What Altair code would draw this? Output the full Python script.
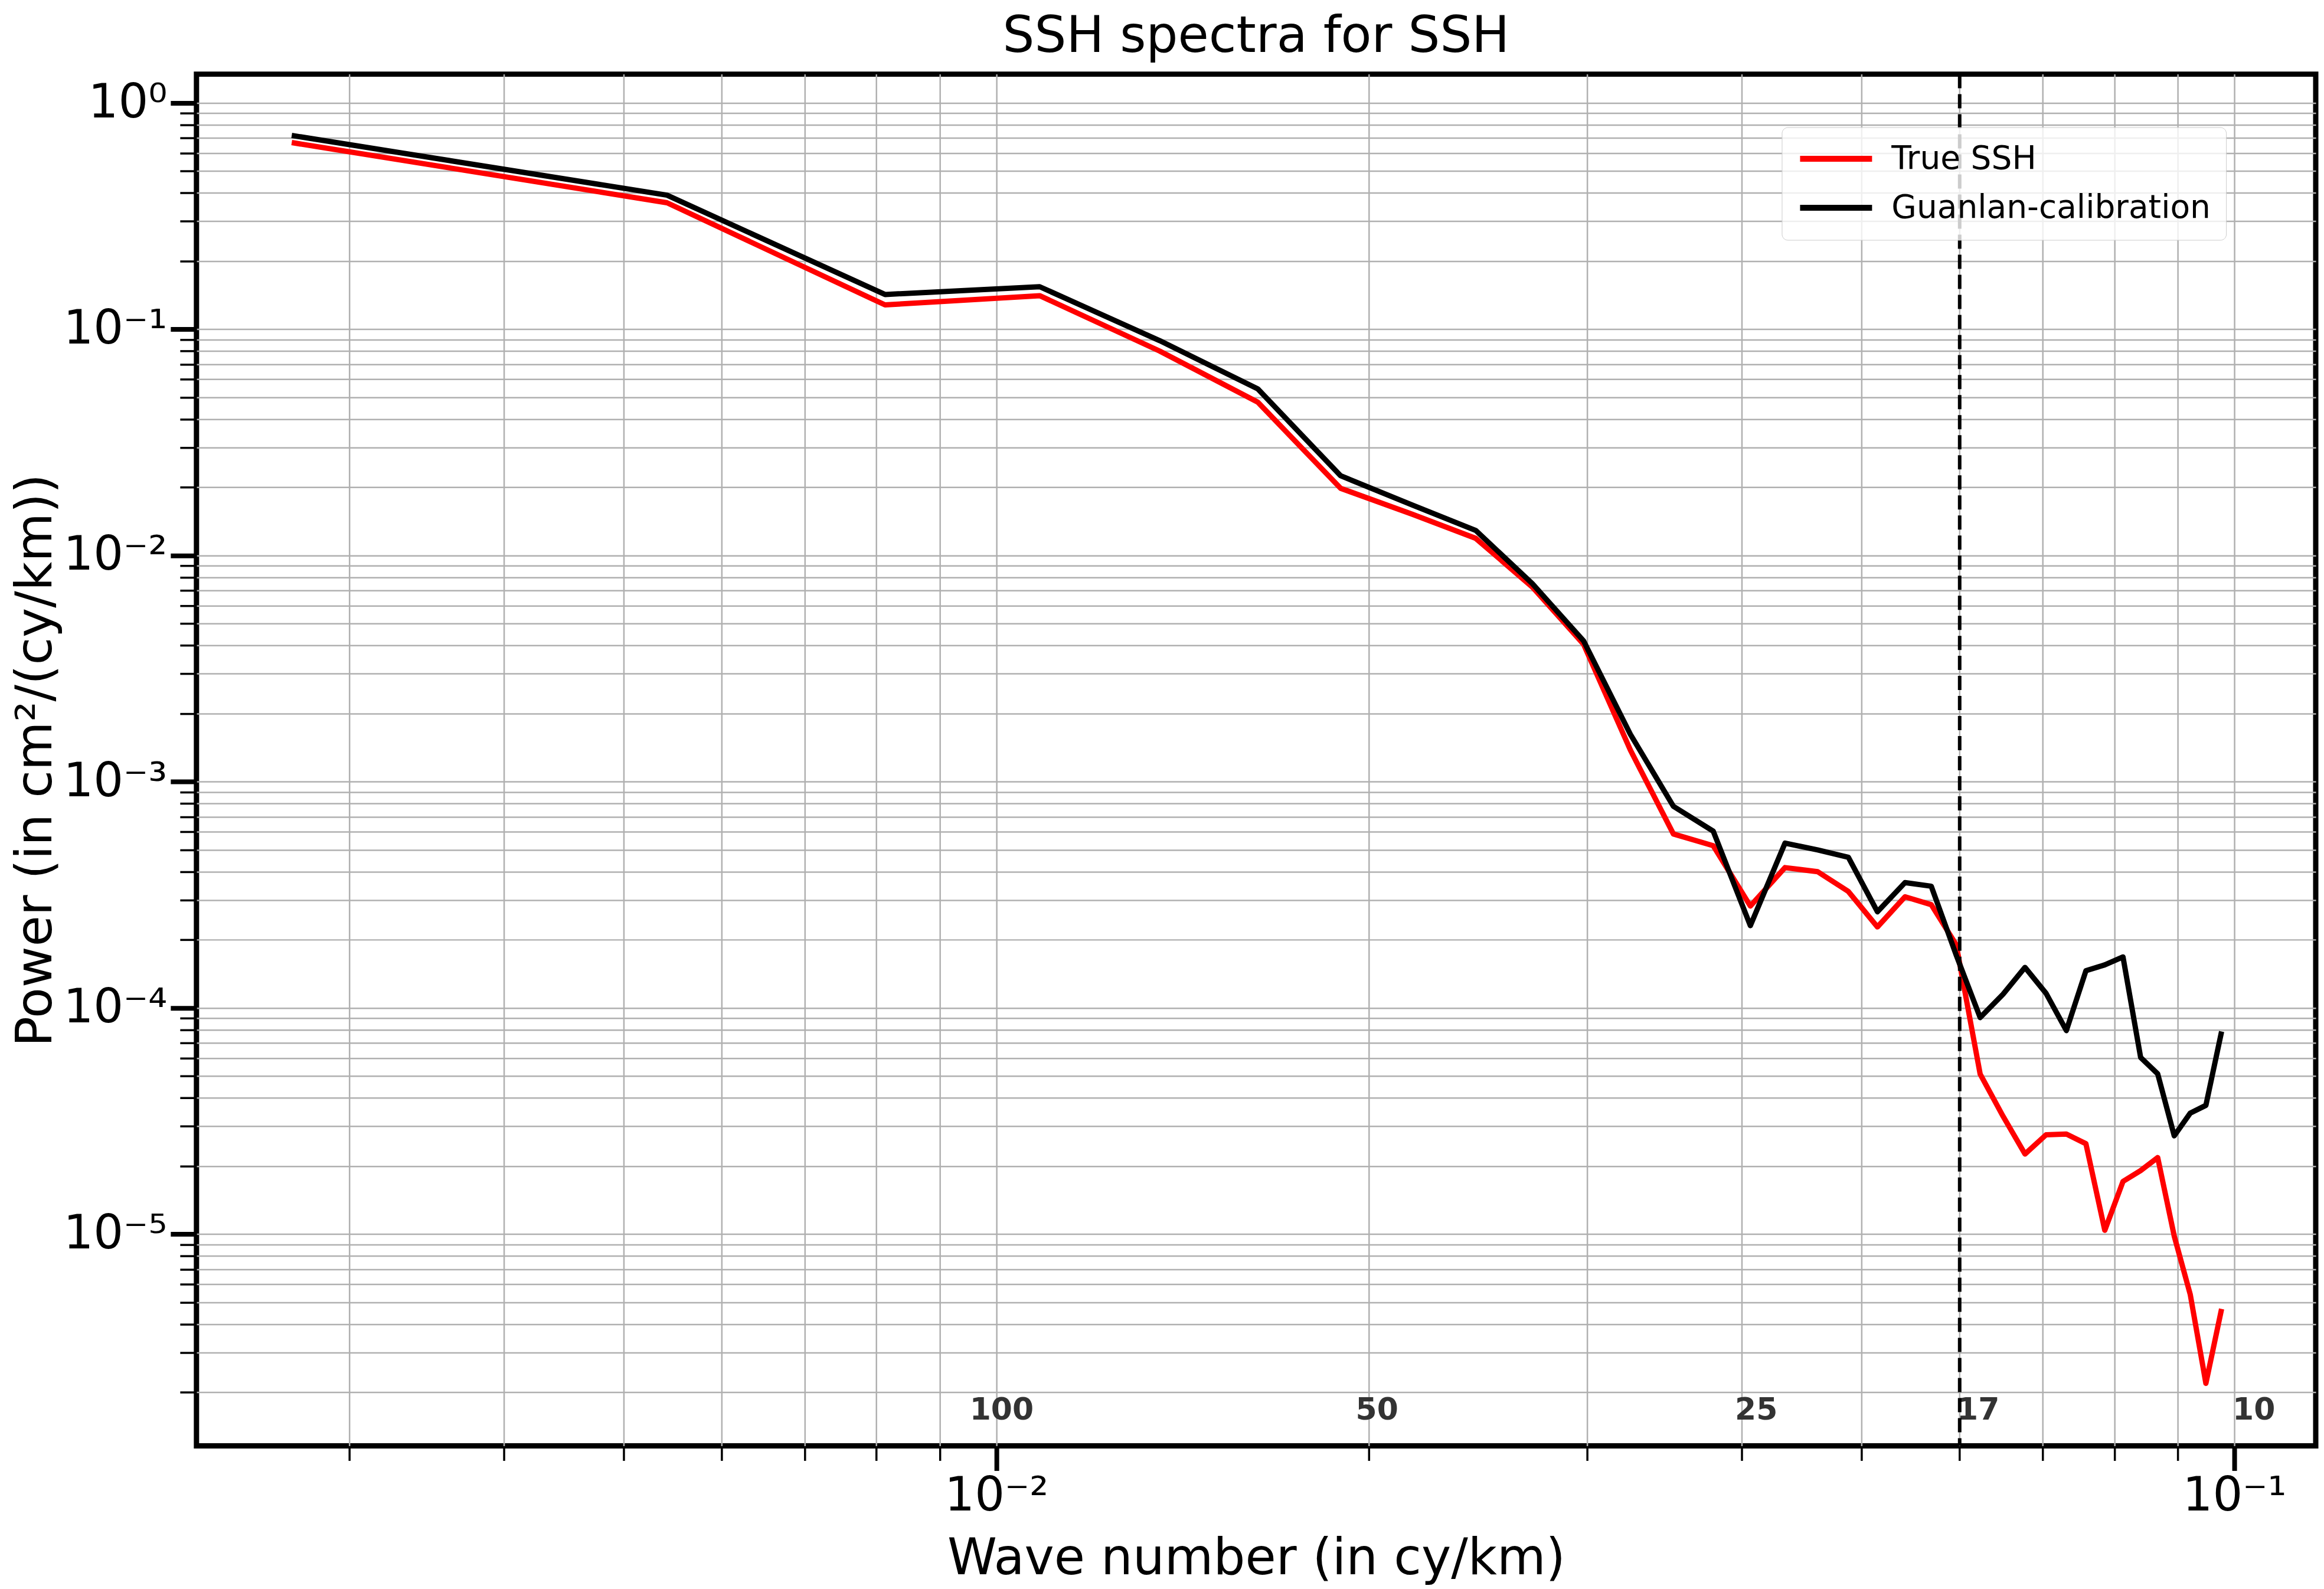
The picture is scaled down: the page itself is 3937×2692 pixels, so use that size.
import altair as alt
import pandas as pd

# ---- data ----
wavenumber = [0.00271, 0.00542, 0.00813, 0.01084, 0.01355, 0.01626, 0.01897, 0.02168,
              0.02439, 0.0271, 0.02981, 0.03252, 0.03523, 0.03794, 0.04065, 0.04336,
              0.04607, 0.04878, 0.05149, 0.0542, 0.05691, 0.05962, 0.06233, 0.06504,
              0.06775, 0.07046, 0.07317, 0.07588, 0.07859, 0.0813, 0.08401, 0.08672,
              0.08943, 0.09214, 0.09485, 0.09756]

true_ssh = [0.665, 0.362, 0.128, 0.1406, 0.080, 0.0476, 0.0198, 0.0152,
            0.0119, 0.00725, 0.00405, 0.00138, 0.000587, 0.000521, 0.000282, 0.000417,
            0.000400, 0.000327, 0.000228, 0.000310, 0.000286, 0.000190, 5.1e-5, 3.32e-5,
            2.26e-5, 2.75e-5, 2.77e-5, 2.51e-5, 1.04e-5, 1.71e-5, 1.91e-5, 2.18e-5,
            9.8e-6, 5.4e-6, 2.19e-6, 4.55e-6]

guanlan = [0.715, 0.391, 0.1423, 0.154, 0.089, 0.0545, 0.0225, 0.0167,
           0.0129, 0.0075, 0.00419, 0.00162, 0.000778, 0.000604, 0.000231, 0.000535,
           0.000499, 0.000463, 0.000266, 0.000358, 0.000345, 0.000171, 9.06e-5, 1.15e-4,
           1.51e-4, 1.16e-4, 7.94e-5, 1.46e-4, 1.55e-4, 1.68e-4, 6.04e-5, 5.11e-5,
           2.72e-5, 3.43e-5, 3.71e-5, 7.66e-5]

series_names = ["True SSH", "Guanlan-calibration"]
series_colors = ["#ff0000", "#000000"]

chart_title = ["SSH spectra for SSH"]

cutoff_x = [0.06]

label_text = ["100", "50", "25", "17", "10"]
label_x = [0.0101, 0.0203, 0.0411, 0.0621, 0.1037]
label_y = [1.67e-6, 1.67e-6, 1.67e-6, 1.67e-6, 1.67e-6]

x_domain = [0.002259, 0.11635]
y_domain = [1.16e-6, 1.34]

x_major = [0.01, 0.1]
x_minor = [0.003, 0.004, 0.005, 0.006, 0.007, 0.008, 0.009, 0.01,
           0.02, 0.03, 0.04, 0.05, 0.06, 0.07, 0.08, 0.09, 0.1]
y_major = [1e-5, 1e-4, 1e-3, 1e-2, 1e-1, 1.0]
y_minor = [m * 10.0 ** e for e in range(-6, 1) for m in range(1, 10)
           if y_domain[0] <= m * 10.0 ** e <= y_domain[1]]

# ---- tables ----
lines_df = pd.DataFrame({
    "k": wavenumber * 2,
    "power": true_ssh + guanlan,
    "series": [series_names[0]] * len(wavenumber) + [series_names[1]] * len(wavenumber),
})
cut_df = pd.DataFrame({"x": cutoff_x})
lab_df = pd.DataFrame({"x": label_x, "y": label_y, "t": label_text})
title_df = pd.DataFrame({"t": chart_title})

FONT = "DejaVu Sans"
W, H = 3592, 2325
sup = {0: "⁰", -1: "⁻¹", -2: "⁻²", -3: "⁻³", -4: "⁻⁴", -5: "⁻⁵"}


def label_expr(exps):
    expr = "''"
    for e in exps:
        expr = f"round(log(datum.value)/LN10) == {e} ? '10{sup[e]}' : ({expr})"
    return expr


x_scale = alt.Scale(type="log", domain=x_domain, nice=False)
y_scale = alt.Scale(type="log", domain=y_domain, nice=False)

x_major_axis = alt.Axis(
    orient="bottom", values=x_major, labelExpr=label_expr([-2, -1]),
    grid=False, domain=False, ticks=True, tickSize=42, tickWidth=8, tickColor="black",
    labelFontSize=80, labelFont=FONT, labelColor="black", labelPadding=4,
    labelFlush=False, labelOverlap=False, labelBound=False,
    title="Wave number (in cy/km)", titleFontSize=85, titleFont=FONT,
    titleFontWeight="normal", titleColor="black",
    titleX=W / 2, titleY=2667 - 125 - H, titleAlign="center", titleBaseline="alphabetic",
    titleAngle=0,
)
y_major_axis = alt.Axis(
    orient="left", values=y_major, labelExpr=label_expr([0, -1, -2, -3, -4, -5]),
    grid=False, domain=False, ticks=True, tickSize=44, tickWidth=8, tickColor="black",
    labelFontSize=80, labelFont=FONT, labelColor="black", labelPadding=6,
    labelFlush=False, labelOverlap=False, labelBound=False,
    title="Power (in cm²/(cy/km))", titleFontSize=85, titleFont=FONT,
    titleFontWeight="normal", titleColor="black",
    titleX=-246, titleY=H / 2, titleAlign="center", titleBaseline="alphabetic", titleAngle=270,
)
x_minor_axis = alt.Axis(
    orient="bottom", values=x_minor, labels=False, title=None,
    grid=True, gridColor="#b0b0b0", gridWidth=2.5, domain=False,
    ticks=True, tickSize=25, tickWidth=3.5, tickColor="black",
)
y_minor_axis = alt.Axis(
    orient="left", values=y_minor, labels=False, title=None,
    grid=True, gridColor="#b0b0b0", gridWidth=2.5, domain=False,
    ticks=True, tickSize=28, tickWidth=3.5, tickColor="black",
)

color_scale = alt.Scale(domain=series_names, range=series_colors)
legend = alt.Legend(
    title=None, orient="none", legendX=2687, legendY=90,
    labelFontSize=55, labelFont=FONT, labelColor="black", labelLimit=2000,
    symbolType="stroke", symbolSize=14884, symbolStrokeWidth=10,
    labelOffset=28, padding=26, rowPadding=27, clipHeight=55,
    cornerRadius=10, strokeColor="#cccccc", fillColor="rgba(255,255,255,0.8)",
)

red = alt.Chart(lines_df).transform_filter(
    alt.datum.series == series_names[0]
).mark_line(strokeWidth=9, strokeJoin="round", strokeCap="square").encode(
    x=alt.X("k:Q", scale=x_scale, axis=x_major_axis),
    y=alt.Y("power:Q", scale=y_scale, axis=y_major_axis),
    color=alt.Color("series:N", scale=color_scale, legend=legend),
)

black = alt.Chart(lines_df).transform_filter(
    alt.datum.series == series_names[1]
).mark_line(strokeWidth=9, strokeJoin="round", strokeCap="square").encode(
    x=alt.X("k:Q", scale=x_scale, axis=None),
    y=alt.Y("power:Q", scale=y_scale, axis=None),
    color=alt.Color("series:N", scale=color_scale, legend=legend),
)

cutoff = alt.Chart(cut_df).mark_rule(
    color="black", strokeWidth=6, strokeDash=[24, 10]
).encode(
    x=alt.X("x:Q", scale=x_scale, axis=x_minor_axis),
)

labels = alt.Chart(lab_df).mark_text(
    font=FONT, fontWeight="bold", fontSize=52, color="#333333",
    align="center", baseline="middle",
).encode(
    x=alt.X("x:Q", scale=x_scale, axis=None),
    y=alt.Y("y:Q", scale=y_scale, axis=y_minor_axis),
    text="t:N",
)

title_mark = alt.Chart(title_df).mark_text(
    font=FONT, fontSize=85, color="black", align="center", baseline="alphabetic",
).encode(
    x=alt.value(W / 2),
    y=alt.value(87 - 125),
    text="t:N",
)

chart = alt.layer(red, black, labels, cutoff, title_mark).resolve_axis(
    x="independent", y="independent"
).properties(
    width=W,
    height=H,
    autosize=alt.AutoSizeParams(type="none"),
    padding={"left": 325, "top": 117, "right": 6, "bottom": 2688 - 8 - 117 - H},
).configure(
    font=FONT
).configure_view(
    stroke="black", strokeWidth=9
)

chart.save("out.html", embed_options={"renderer": "svg", "actions": False})
